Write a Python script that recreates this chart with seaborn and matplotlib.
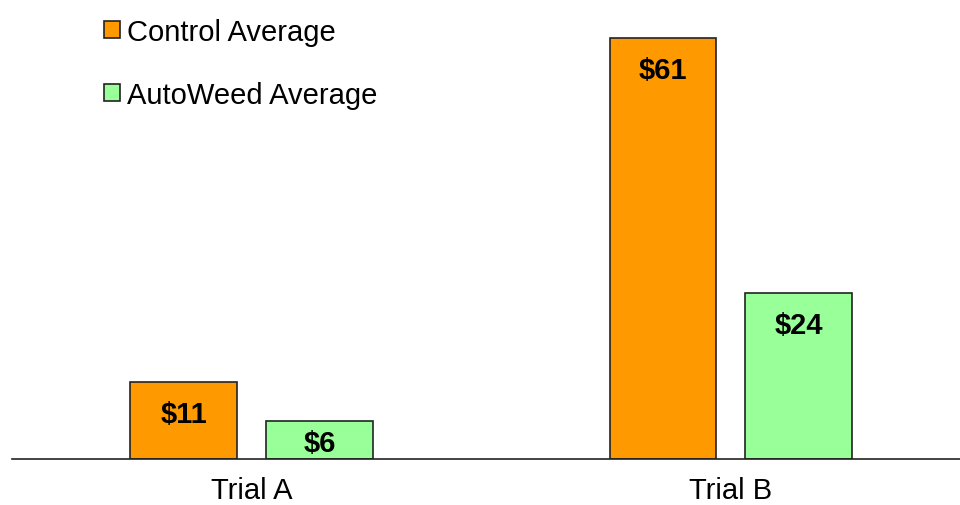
import matplotlib
matplotlib.use("Agg")
import matplotlib.pyplot as plt
import seaborn as sns
import pandas as pd
from matplotlib.patches import Patch

trials = ["Trial A", "Trial B"]
series = ["Control Average", "AutoWeed Average"]
control_values = [11.1, 61]
autoweed_values = [5.5, 24]
control_labels = ["$11", "$61"]
autoweed_labels = ["$6", "$24"]
colors = ["#FF9900", "#99FF99"]

df = pd.DataFrame({
    "trial": trials * 2,
    "series": [series[0]] * 2 + [series[1]] * 2,
    "value": control_values + autoweed_values,
})

sns.set_style("white")
plt.rcParams["font.family"] = ["Liberation Sans", "DejaVu Sans"]
plt.rcParams["text.color"] = "black"
plt.rcParams["xtick.color"] = "black"

fig = plt.figure(figsize=(9.6, 5.06), dpi=100)
ax = fig.add_axes([12 / 960, 46 / 506, 948 / 960, 448.5 / 506])

sns.barplot(data=df, x="trial", y="value", hue="series", hue_order=series,
            palette=colors, width=0.567, gap=0.213, edgecolor="#222222",
            linewidth=1.2, saturation=1, legend=False, ax=ax)

ax.set_ylim(0, 65)
ax.set_xlim(-0.5, 1.478)
for s in ["top", "right", "left"]:
    ax.spines[s].set_visible(False)
ax.spines["bottom"].set_color("#222222")
ax.spines["bottom"].set_linewidth(1.2)
ax.set_yticks([])
ax.set_xlabel("")
ax.set_ylabel("")
ax.tick_params(axis="x", length=0, labelsize=21, labelcolor="black", pad=12)

px_per_unit = 448.5 / 65
for cont, labels in zip(ax.containers, [control_labels, autoweed_labels]):
    for bar, lab in zip(cont, labels):
        x = bar.get_x() + bar.get_width() / 2
        top = bar.get_height()
        off_px = min(32, top * px_per_unit / 2 + 3)
        ax.annotate(lab, (x, top), xytext=(0, -off_px * 0.72), textcoords="offset points",
                    ha="center", va="center", fontsize=21, fontweight="bold",
                    color="black")

handles = [Patch(facecolor=c, edgecolor="#222222", linewidth=1.2) for c in colors]
fig.legend(handles, series, loc="upper left", bbox_to_anchor=(92 / 960, 1 - 7 / 506),
           frameon=False, fontsize=21, handlelength=0.55, handleheight=0.55,
           handletextpad=0.25, labelspacing=1.2, borderaxespad=0)

fig.savefig("out.png", dpi=100)
